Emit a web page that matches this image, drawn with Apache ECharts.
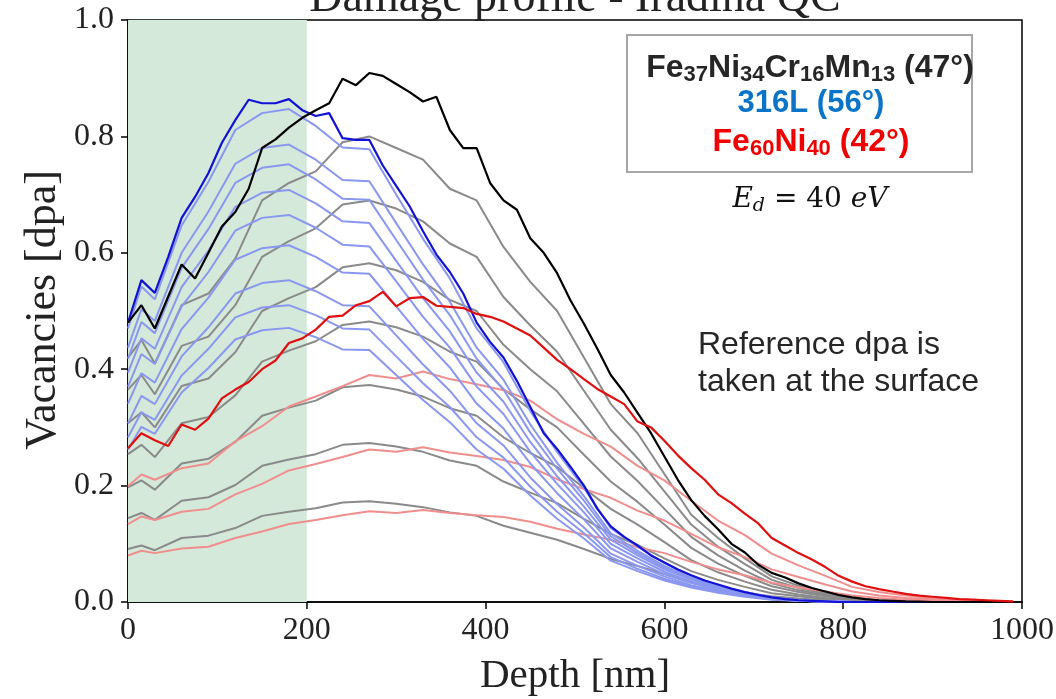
<!DOCTYPE html>
<html><head><meta charset="utf-8">
<script src="https://cdn.jsdelivr.net/npm/echarts@6/dist/echarts.min.js"></script>
<style>html,body{margin:0;padding:0;background:#fff}#c{width:1056px;height:699px}</style>
</head><body><div id="c"></div>
<script>
// ---- data ----
const depthMain = [0,15,30,45,60,75,90,105,120,135,150,165,180,195,210,225,240,255,270,285,300,315,330,345,360,375,390,405,420,435,450,465,480,495,510,525,540,555,570,585,600,615,630,645,660,675,690,705,720,735,750,765,780,795,810,825,840,855,870,885,900,915,930,945,960,975,990];
const feNiCrMn = [0.48,0.51,0.47,0.525,0.58,0.556,0.60,0.645,0.67,0.71,
  0.78,0.795,0.815,0.832,0.845,0.857,0.899,0.888,0.909,0.904,
  0.89,0.876,0.86,0.868,0.811,0.78,0.78,0.72,0.69,0.674,
  0.625,0.60,0.565,0.518,0.478,0.435,0.39,0.36,0.325,0.29,
  0.25,0.21,0.175,0.148,0.125,0.10,0.085,0.064,0.05,0.042,
  0.032,0.024,0.018,0.012,0.008,0.005,0.003,0.002,0.001,0.0005,
  0,0,0,0,0,0,0];
const ss316L = [0.48,0.553,0.531,0.593,0.66,0.696,0.737,0.789,0.828,0.863,
  0.857,0.857,0.864,0.845,0.835,0.84,0.797,0.794,0.794,0.75,
  0.715,0.68,0.637,0.597,0.567,0.53,0.48,0.447,0.42,0.38,
  0.335,0.29,0.263,0.232,0.2,0.16,0.13,0.112,0.097,0.08,
  0.068,0.056,0.046,0.037,0.03,0.023,0.017,0.012,0.008,0.005,
  0.003,0.002,0.001,0,0,0,0,0,0,0,
  0,0,0,0,0,0,0];
const feNi = [0.264,0.29,0.278,0.268,0.305,0.296,0.315,0.35,0.365,0.378,
  0.40,0.415,0.445,0.453,0.468,0.49,0.492,0.51,0.517,0.533,
  0.508,0.522,0.524,0.509,0.507,0.505,0.495,0.49,0.482,0.47,
  0.458,0.437,0.416,0.40,0.383,0.366,0.353,0.34,0.31,0.30,
  0.277,0.252,0.23,0.21,0.185,0.17,0.152,0.135,0.11,0.097,
  0.084,0.073,0.06,0.045,0.035,0.027,0.022,0.018,0.014,0.011,
  0.009,0.007,0.005,0.004,0.003,0.002,0.001];

const depthFaint = [0,15,30,60,90,120,150,180,210,240,270,300,330,360,390,420,450,480,510,540,570,600,630,660,690,720,750,780,810,840,870,900,960];
// grey curves (FeNiCrMn at lower fluences)
const grey1 = [0.42,0.45,0.41,0.51,0.53,0.59,0.69,0.72,0.74,0.79, 0.80,0.78,0.76,0.71,0.69,0.61,0.55,0.50,0.42,0.34, 0.29,0.22,0.15,0.11,0.075,0.044,0.028,0.016,0.007,0.003, 0.001,0,0];
const grey2 = [0.365,0.39,0.357,0.44,0.456,0.51,0.593,0.62,0.642,0.683, 0.69,0.676,0.654,0.616,0.593,0.524,0.475,0.43,0.363,0.296, 0.247,0.19,0.133,0.095,0.065,0.038,0.024,0.014,0.006,0.002, 0.001,0,0];
const grey3 = [0.307,0.326,0.30,0.371,0.384,0.429,0.50,0.522,0.541,0.575, 0.582,0.57,0.55,0.519,0.50,0.442,0.40,0.362,0.306,0.25, 0.208,0.16,0.112,0.08,0.054,0.032,0.02,0.012,0.005,0.002, 0.001,0,0];
const grey4 = [0.254,0.27,0.249,0.307,0.318,0.355,0.413,0.432,0.448,0.476, 0.482,0.472,0.456,0.43,0.413,0.366,0.331,0.30,0.253,0.207, 0.172,0.133,0.093,0.066,0.045,0.027,0.017,0.01,0.004,0.002, 0.001,0,0];
const grey5 = [0.197,0.209,0.193,0.238,0.246,0.275,0.32,0.334,0.346,0.369, 0.373,0.365,0.353,0.333,0.32,0.283,0.256,0.232,0.196,0.16, 0.133,0.103,0.072,0.051,0.035,0.021,0.013,0.007,0.003,0.001, 0,0,0];
const grey6 = [0.144,0.153,0.141,0.174,0.18,0.201,0.234,0.245,0.254,0.27, 0.273,0.267,0.258,0.243,0.234,0.207,0.188,0.17,0.143,0.117, 0.098,0.075,0.053,0.038,0.026,0.015,0.01,0.005,0.002,0.001, 0,0,0];
const grey7 = [0.091,0.097,0.089,0.11,0.114,0.127,0.148,0.155,0.161,0.171, 0.173,0.169,0.163,0.154,0.148,0.131,0.119,0.107,0.091,0.074, 0.062,0.048,0.033,0.024,0.016,0.01,0.006,0.003,0.002,0.001, 0,0,0];
// light blue curves (316L)
const lblue1 = [0.47,0.542,0.52,0.647,0.722,0.811,0.84,0.847,0.818,0.781, 0.778,0.70,0.624,0.556,0.47,0.412,0.328,0.258,0.196,0.127, 0.095,0.067,0.045,0.029,0.017,0.008,0.003,0.001,0,0, 0,0,0];
const lblue2 = [0.437,0.503,0.483,0.60,0.671,0.753,0.78,0.786,0.76,0.725, 0.723,0.651,0.58,0.516,0.437,0.382,0.305,0.239,0.182,0.118, 0.088,0.062,0.042,0.027,0.015,0.007,0.003,0.001,0,0, 0,0,0];
const lblue3 = [0.418,0.481,0.462,0.574,0.641,0.72,0.746,0.752,0.726,0.693, 0.691,0.622,0.554,0.493,0.418,0.365,0.291,0.229,0.174,0.113, 0.084,0.059,0.04,0.026,0.015,0.007,0.003,0.001,0,0, 0,0,0];
const lblue4 = [0.394,0.453,0.435,0.541,0.604,0.679,0.703,0.708,0.685,0.654, 0.651,0.586,0.522,0.465,0.394,0.344,0.275,0.216,0.164,0.107, 0.08,0.056,0.038,0.025,0.014,0.007,0.002,0.001,0,0, 0,0,0];
const lblue5 = [0.37,0.426,0.409,0.508,0.567,0.638,0.66,0.665,0.643,0.614, 0.611,0.551,0.49,0.437,0.37,0.323,0.258,0.203,0.154,0.10, 0.075,0.052,0.035,0.023,0.013,0.006,0.002,0.001,0,0, 0,0,0];
const lblue6 = [0.341,0.393,0.377,0.469,0.523,0.588,0.608,0.613,0.593,0.566, 0.564,0.508,0.452,0.403,0.341,0.298,0.238,0.187,0.142,0.092, 0.069,0.048,0.033,0.021,0.012,0.006,0.002,0.001,0,0, 0,0,0];
const lblue7 = [0.307,0.354,0.34,0.422,0.472,0.53,0.548,0.553,0.534,0.51, 0.508,0.458,0.408,0.363,0.307,0.269,0.214,0.168,0.128,0.083, 0.062,0.044,0.029,0.019,0.011,0.005,0.002,0.001,0,0, 0,0,0];
const lblue8 = [0.283,0.326,0.313,0.389,0.435,0.489,0.506,0.51,0.493,0.47, 0.468,0.422,0.376,0.335,0.283,0.248,0.198,0.155,0.118,0.077, 0.057,0.04,0.027,0.018,0.01,0.005,0.002,0.001,0,0, 0,0,0];
const lblue9 = [0.262,0.301,0.289,0.36,0.402,0.451,0.467,0.471,0.455,0.434, 0.433,0.39,0.347,0.309,0.262,0.229,0.183,0.143,0.109,0.071, 0.053,0.037,0.025,0.016,0.009,0.004,0.002,0.001,0,0, 0,0,0];
// light red curves (Fe60Ni40)
const lred1 = [0.199,0.219,0.21,0.23,0.238,0.276,0.302,0.336,0.353,0.371, 0.39,0.384,0.396,0.383,0.374,0.364,0.346,0.314,0.289,0.267, 0.234,0.209,0.174,0.14,0.115,0.083,0.063,0.045,0.026,0.017, 0.011,0.007,0.002];
const lred2 = [0.134,0.147,0.141,0.155,0.16,0.185,0.203,0.226,0.237,0.249, 0.262,0.258,0.266,0.257,0.251,0.244,0.232,0.211,0.194,0.179, 0.157,0.14,0.117,0.094,0.077,0.056,0.043,0.03,0.018,0.011, 0.007,0.005,0.002];
const lred3 = [0.08,0.088,0.084,0.092,0.095,0.11,0.121,0.134,0.141,0.149, 0.156,0.153,0.158,0.153,0.149,0.146,0.138,0.126,0.116,0.107, 0.094,0.084,0.069,0.056,0.046,0.033,0.025,0.018,0.011,0.007, 0.004,0.003,0.001];

const shadedRange = [0, 200];
const xTicks = [0, 1000, 200];
const yTicks = [0, 1, 0.2];

// ---- chart ----
const GREY = '#8a8a8a', LBLUE = '#8a97f0', LRED = '#f08e8e';
const BLACK = '#000000', BLUE = '#1212d6', RED = '#e01010';
function mk(xs, ys, color, width, z) {
  return {type: 'line', data: xs.map((x, i) => [x, ys[i]]), symbol: 'none', showSymbol: false,
    lineStyle: {color: color, width: width}, z: z, silent: true, animation: false, clip: true};
}
const series = [];
series.push({type: 'line', data: [], z: 1, silent: true,
  markArea: {silent: true, itemStyle: {color: '#d4e9da'}, data: [[{xAxis: shadedRange[0]}, {xAxis: shadedRange[1]}]]}});
[grey1, grey2, grey3, grey4, grey5, grey6, grey7].forEach(g => series.push(mk(depthFaint, g, GREY, 2, 2)));
[lred1, lred2, lred3].forEach(g => series.push(mk(depthFaint, g, LRED, 2, 3)));
[lblue1, lblue2, lblue3, lblue4, lblue5, lblue6, lblue7, lblue8, lblue9].forEach(g => series.push(mk(depthFaint, g, LBLUE, 2, 4)));
series.push(mk(depthMain, ss316L, BLUE, 2.2, 5));
series.push(mk(depthMain, feNiCrMn, BLACK, 2.2, 6));
series.push(mk(depthMain, feNi, RED, 2.2, 7));

const serif = 'Liberation Serif, DejaVu Serif, serif';
const sans = 'Liberation Sans, Arial, sans-serif';
const axisCommon = {
  axisLine: {show: true, onZero: false, lineStyle: {color: '#000', width: 1.5}},
  axisTick: {show: true, inside: false, length: 7, lineStyle: {color: '#000', width: 1.5}},
  splitLine: {show: false}
};
const chart = echarts.init(document.getElementById('c'), null, {renderer: 'canvas'});
chart.setOption({
  animation: false,
  backgroundColor: '#fff',
  grid: {left: 128, right: 34, top: 20, bottom: 97, containLabel: false, outerBoundsMode: 'none',
    show: true, borderColor: '#000', borderWidth: 1.5, backgroundColor: 'transparent'},
  xAxis: Object.assign({type: 'value', min: xTicks[0], max: xTicks[1], interval: xTicks[2],
    axisLabel: {fontFamily: serif, fontSize: 32, color: '#222', margin: 13, formatter: v => String(v)}}, axisCommon),
  yAxis: Object.assign({type: 'value', min: yTicks[0], max: yTicks[1], interval: yTicks[2],
    axisLabel: {fontFamily: serif, fontSize: 32, color: '#222', margin: 14, formatter: v => v.toFixed(1)}}, axisCommon),
  series: series,
  graphic: [
    {type: 'text', x: 575, y: 22, z: 100, style: {text: 'Damage profile - Iradina QC', font: '46px ' + serif, fill: '#222', align: 'center', verticalAlign: 'bottom'}},
    {type: 'text', x: 575, y: 676, z: 100, style: {text: 'Depth [nm]', font: '41px ' + serif, fill: '#222', align: 'center', verticalAlign: 'middle'}},
    {type: 'text', x: 43, y: 310, rotation: Math.PI / 2, z: 100, style: {text: 'Vacancies [dpa]', font: '44px ' + serif, fill: '#222', align: 'center', verticalAlign: 'middle'}},
    {type: 'rect', z: 100, shape: {x: 627, y: 35, width: 345, height: 137}, style: {fill: '#fff', stroke: '#a6a6a6', lineWidth: 2}},
    {type: 'text', x: 810, y: 68, z: 101, style: {
      text: '{b|Fe}{s|37}{b|Ni}{s|34}{b|Cr}{s|16}{b|Mn}{s|13}{b| (47°)}', align: 'center', verticalAlign: 'middle',
      rich: {b: {fontFamily: sans, fontWeight: 'bold', fontSize: 32, lineHeight: 36, fill: '#262626', color: '#262626'},
             s: {fontFamily: sans, fontWeight: 'bold', fontSize: 22, lineHeight: 20, verticalAlign: 'bottom', fill: '#262626', color: '#262626'}}}},
    {type: 'text', x: 811, y: 103, z: 101, style: {text: '316L (56°)', font: 'bold 31px ' + sans, fill: '#0a74c8', align: 'center', verticalAlign: 'middle'}},
    {type: 'text', x: 811, y: 142, z: 101, style: {
      text: '{b|Fe}{s|60}{b|Ni}{s|40}{b| (42°)}', align: 'center', verticalAlign: 'middle',
      rich: {b: {fontFamily: sans, fontWeight: 'bold', fontSize: 32, lineHeight: 36, fill: '#f00000', color: '#f00000'},
             s: {fontFamily: sans, fontWeight: 'bold', fontSize: 22, lineHeight: 20, verticalAlign: 'bottom', fill: '#f00000', color: '#f00000'}}}},
    {type: 'text', x: 810, y: 200, z: 101, style: {
      text: '{i|E}{d|d}{n| = 40 }{i|eV}', align: 'center', verticalAlign: 'middle',
      rich: {i: {fontFamily: 'DejaVu Serif', fontStyle: 'italic', fontSize: 28, lineHeight: 32, fill: '#111', color: '#111'},
             d: {fontFamily: 'DejaVu Serif', fontStyle: 'italic', fontSize: 19, lineHeight: 18, verticalAlign: 'bottom', fill: '#111', color: '#111'},
             n: {fontFamily: 'DejaVu Serif', fontSize: 28, lineHeight: 32, fill: '#111', color: '#111'}}}},
    {type: 'text', x: 698, y: 364, z: 101, style: {text: 'Reference dpa is\ntaken at the surface', font: '32px ' + sans, lineHeight: 37, fill: '#262626', align: 'left', verticalAlign: 'middle'}}
  ]
});
</script></body></html>
